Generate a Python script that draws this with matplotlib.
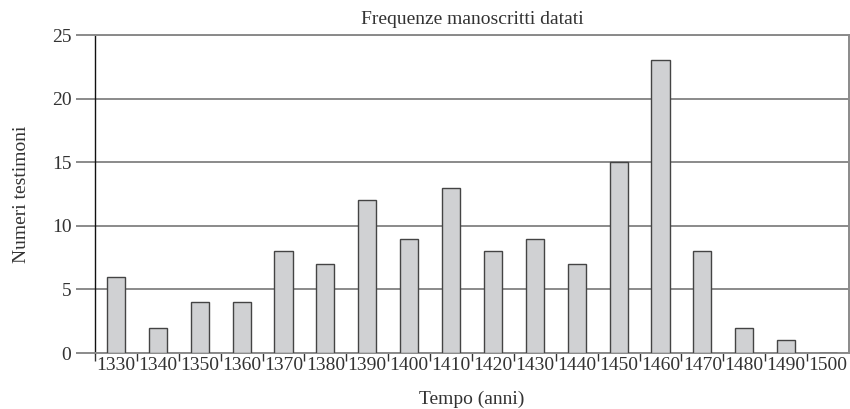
import matplotlib
matplotlib.use("Agg")
import matplotlib.pyplot as plt
import numpy as np

plt.rcParams['font.family'] = ['Liberation Serif', 'DejaVu Serif']

# dati
anni = ['1330', '1340', '1350', '1360', '1370', '1380', '1390', '1400', '1410',
        '1420', '1430', '1440', '1450', '1460', '1470', '1480', '1490', '1500']
testimoni = [6, 2, 4, 4, 8, 7, 12, 9, 13, 8, 9, 7, 15, 23, 8, 2, 1, 0]

grid_col = '#8a8a8a'
txt_col = '#333333'
fs = 14
x = np.arange(len(anni))

fig = plt.figure(figsize=(8.5, 4.09), dpi=100)
ax = fig.add_axes([95 / 850, 1 - 353 / 409, 754 / 850, 318 / 409])

ax.set_axisbelow(True)
ax.yaxis.grid(True, color=grid_col, linewidth=1.4)
ax.bar(x, testimoni, width=0.43, color='#d0d1d3', edgecolor='#444444', linewidth=1.0, zorder=3)

ax.set_xlim(-0.5, len(anni) - 0.5)
ax.set_ylim(0, 25)
ax.set_yticks([0, 5, 10, 15, 20, 25])
ax.tick_params(axis='y', length=14, width=1.4, color=grid_col, pad=3, labelsize=fs, labelcolor=txt_col)

ax.set_xticks(x)
ax.set_xticklabels(anni)
ax.set_xticks(x - 0.5, minor=True)
ax.tick_params(axis='x', which='major', length=0, pad=3, labelsize=fs, labelcolor=txt_col)
ax.tick_params(axis='x', which='minor', length=6, width=1.0, color=txt_col)

for s in ['top', 'right', 'bottom']:
    ax.spines[s].set_color(grid_col)
    ax.spines[s].set_linewidth(1.4)
ax.spines['left'].set_color('#111111')
ax.spines['left'].set_linewidth(1.0)

ax.set_title('Frequenze manoscritti datati', fontsize=fs, color=txt_col, pad=8)
ax.set_xlabel('Tempo (anni)', fontsize=fs, color=txt_col, labelpad=12)
ax.set_ylabel('Numeri testimoni', fontsize=fs, color=txt_col, labelpad=16)

fig.savefig('out.png', dpi=100)
